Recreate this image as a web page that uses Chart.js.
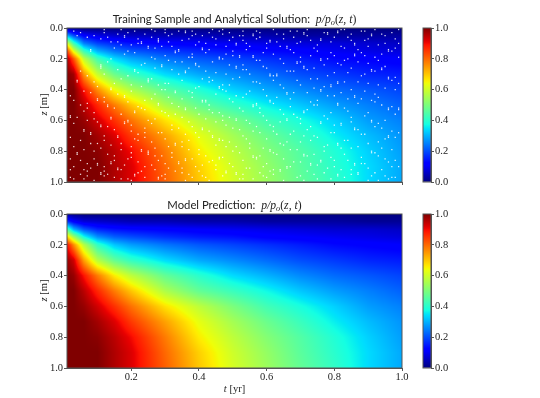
<!DOCTYPE html>
<html>
<head>
<meta charset="utf-8">
<script src="https://cdn.jsdelivr.net/npm/chart.js@4"></script>
<style>
  html, body { margin: 0; padding: 0; background: #fff; }
  canvas { position: absolute; left: 0; top: 0; }
</style>
</head>
<body>
<canvas id="trainChart" width="540" height="398"></canvas>
<canvas id="trainBar" width="540" height="398"></canvas>
<canvas id="predChart" width="540" height="398"></canvas>
<canvas id="predBar" width="540" height="398"></canvas>
<script>
// values, one row per z
const tNodes = [0.01, 0.03, 0.06, 0.1, 0.15, 0.2, 0.3, 0.4, 0.5, 0.6, 0.7, 0.8, 0.9, 1.0];
const zNodes = [0, 0.05, 0.1, 0.15, 0.2, 0.3, 0.4, 0.5, 0.6, 0.7, 0.8, 0.9, 1.0];

const trainValues = [
  [0.02, 0.01, 0, 0, 0, 0, 0, 0, 0, 0, 0, 0, 0, 0],
  [0.30, 0.20, 0.12, 0.09, 0.07, 0.06, 0.05, 0.05, 0.04, 0.04, 0.03, 0.03, 0.03, 0.03],
  [0.62, 0.42, 0.25, 0.19, 0.16, 0.14, 0.12, 0.11, 0.10, 0.09, 0.08, 0.08, 0.07, 0.06],
  [0.85, 0.62, 0.42, 0.30, 0.24, 0.21, 0.18, 0.16, 0.14, 0.13, 0.12, 0.10, 0.09, 0.08],
  [0.97, 0.82, 0.58, 0.43, 0.34, 0.29, 0.24, 0.21, 0.19, 0.17, 0.15, 0.13, 0.12, 0.11],
  [1.00, 0.97, 0.75, 0.59, 0.48, 0.42, 0.34, 0.29, 0.26, 0.23, 0.20, 0.18, 0.16, 0.15],
  [1.00, 1.00, 0.89, 0.76, 0.64, 0.56, 0.46, 0.39, 0.33, 0.29, 0.26, 0.23, 0.21, 0.19],
  [1.00, 1.00, 0.95, 0.87, 0.78, 0.70, 0.56, 0.47, 0.41, 0.36, 0.32, 0.28, 0.25, 0.22],
  [1.00, 1.00, 0.98, 0.93, 0.86, 0.79, 0.67, 0.57, 0.50, 0.43, 0.38, 0.33, 0.28, 0.25],
  [1.00, 1.00, 1.00, 0.97, 0.92, 0.85, 0.74, 0.63, 0.55, 0.48, 0.42, 0.36, 0.31, 0.27],
  [1.00, 1.00, 1.00, 0.99, 0.95, 0.90, 0.78, 0.66, 0.58, 0.51, 0.45, 0.39, 0.33, 0.28],
  [1.00, 1.00, 1.00, 1.00, 0.96, 0.92, 0.80, 0.69, 0.60, 0.53, 0.46, 0.40, 0.34, 0.29],
  [1.00, 1.00, 1.00, 1.00, 0.96, 0.92, 0.81, 0.70, 0.61, 0.54, 0.47, 0.41, 0.34, 0.29],
];

const predValues = [
  [0.02, 0.01, 0, 0, 0, 0, 0, 0, 0, 0, 0, 0, 0, 0],
  [0.18, 0.12, 0.08, 0.07, 0.06, 0.05, 0.05, 0.04, 0.04, 0.03, 0.03, 0.03, 0.02, 0.02],
  [0.45, 0.30, 0.21, 0.16, 0.14, 0.13, 0.12, 0.11, 0.10, 0.09, 0.08, 0.07, 0.07, 0.06],
  [0.70, 0.55, 0.38, 0.27, 0.22, 0.20, 0.17, 0.15, 0.14, 0.12, 0.11, 0.10, 0.09, 0.08],
  [0.90, 0.76, 0.57, 0.41, 0.32, 0.28, 0.24, 0.21, 0.19, 0.17, 0.15, 0.13, 0.12, 0.11],
  [0.98, 0.93, 0.74, 0.57, 0.47, 0.41, 0.34, 0.29, 0.26, 0.23, 0.20, 0.18, 0.16, 0.15],
  [1.00, 0.98, 0.89, 0.78, 0.66, 0.58, 0.47, 0.40, 0.34, 0.30, 0.26, 0.23, 0.21, 0.19],
  [1.00, 1.00, 0.95, 0.87, 0.78, 0.70, 0.56, 0.47, 0.42, 0.37, 0.32, 0.28, 0.25, 0.22],
  [1.00, 1.00, 0.98, 0.93, 0.86, 0.79, 0.67, 0.58, 0.50, 0.43, 0.38, 0.33, 0.28, 0.25],
  [1.00, 1.00, 1.00, 0.97, 0.92, 0.85, 0.74, 0.63, 0.55, 0.48, 0.42, 0.36, 0.31, 0.27],
  [1.00, 1.00, 1.00, 0.99, 0.95, 0.90, 0.78, 0.66, 0.58, 0.51, 0.45, 0.39, 0.33, 0.28],
  [1.00, 1.00, 1.00, 1.00, 0.96, 0.92, 0.80, 0.69, 0.60, 0.53, 0.46, 0.40, 0.34, 0.29],
  [1.00, 1.00, 1.00, 1.00, 0.96, 0.92, 0.81, 0.70, 0.61, 0.54, 0.47, 0.41, 0.34, 0.29],
];

// white specks in the top panel: columns of missing samples
const gapT = [0.03, 0.04, 0.05, 0.07, 0.08, 0.09, 0.11, 0.12, 0.14, 0.15, 0.17, 0.18, 0.2, 0.21, 0.22, 0.24, 0.25, 0.27, 0.28, 0.3, 0.32, 0.33, 0.35, 0.36, 0.38, 0.4, 0.41, 0.43, 0.45, 0.46, 0.47, 0.5, 0.51, 0.53, 0.55, 0.56, 0.58, 0.6, 0.61, 0.62, 0.65, 0.66, 0.67, 0.7, 0.71, 0.72, 0.75, 0.76, 0.77, 0.8, 0.81, 0.83, 0.85, 0.86, 0.88, 0.9, 0.91, 0.92, 0.95, 0.96, 0.97,
  0.02, 0.06, 0.1, 0.13, 0.16, 0.19, 0.23, 0.26, 0.29, 0.31, 0.34, 0.37, 0.39, 0.42, 0.44, 0.48, 0.49, 0.52, 0.54, 0.57, 0.59, 0.63, 0.64, 0.68, 0.69, 0.73, 0.74, 0.78, 0.79, 0.82, 0.84, 0.87, 0.89, 0.93, 0.94, 0.98, 0.99];
const gapZ = [
  [0.02, 0.47, 0.62, 0.77, 0.9, 0.98],
  [0.05, 0.34, 0.35, 0.58, 0.81, 0.82],
  [0.03, 0.28, 0.5, 0.73, 0.86, 0.95],
  [0.06, 0.31, 0.49, 0.52, 0.6, 0.88, 0.93, 0.96],
  [0.14, 0.15, 0.42, 0.68, 0.69, 0.75, 0.91],
  [0.05, 0.35, 0.55, 0.59, 0.8, 0.85, 0.99],
  [0.07, 0.24, 0.25, 0.26, 0.63, 0.64, 0.78, 0.94, 0.95],
  [0.01, 0.03, 0.3, 0.45, 0.48, 0.7, 0.73, 0.9, 0.93, 0.96],
  [0.09, 0.2, 0.39, 0.4, 0.58, 0.59, 0.76, 0.87, 0.88],
  [0.13, 0.36, 0.52, 0.66, 0.83, 0.86, 0.97],
  [0.01, 0.11, 0.33, 0.56, 0.75, 0.79, 0.92, 0.98],
  [0.05, 0.06, 0.17, 0.44, 0.45, 0.61, 0.62, 0.89],
  [0.11, 0.37, 0.41, 0.63, 0.67, 0.77, 0.81, 0.84, 0.99],
  [0.02, 0.16, 0.27, 0.28, 0.54, 0.55, 0.72, 0.95, 0.96],
  [0.07, 0.1, 0.29, 0.51, 0.69, 0.73, 0.87, 0.94],
  [0.04, 0.23, 0.47, 0.53, 0.65, 0.68, 0.71, 0.9, 0.97],
  [0.12, 0.13, 0.33, 0.34, 0.35, 0.6, 0.8, 0.81, 0.82],
  [0.02, 0.13, 0.2, 0.26, 0.43, 0.59, 0.78, 0.83, 0.92],
  [0.07, 0.08, 0.09, 0.37, 0.49, 0.5, 0.68, 0.86, 0.97, 0.98],
  [0.01, 0.03, 0.18, 0.36, 0.4, 0.55, 0.72, 0.88, 0.95, 0.98],
  [0.04, 0.12, 0.27, 0.49, 0.63, 0.66, 0.81, 0.84],
  [0.15, 0.16, 0.22, 0.41, 0.42, 0.56, 0.75, 0.76, 0.93],
  [0.08, 0.22, 0.34, 0.46, 0.58, 0.74, 0.77, 0.91, 0.94],
  [0.02, 0.03, 0.28, 0.29, 0.52, 0.53, 0.69, 0.85, 0.86, 0.99],
  [0.02, 0.05, 0.17, 0.19, 0.42, 0.45, 0.64, 0.85, 0.97],
  [0.09, 0.25, 0.38, 0.56, 0.71, 0.79, 0.82, 0.93],
  [0.05, 0.13, 0.14, 0.33, 0.47, 0.48, 0.65, 0.66, 0.89, 0.96],
  [0.03, 0.14, 0.32, 0.35, 0.5, 0.53, 0.67, 0.87, 0.99],
  [0.07, 0.11, 0.29, 0.43, 0.61, 0.76, 0.89, 0.92],
  [0.02, 0.19, 0.2, 0.38, 0.39, 0.55, 0.72, 0.73, 0.84, 0.85],
  [0.01, 0.04, 0.2, 0.37, 0.4, 0.57, 0.6, 0.73, 0.84, 0.96],
  [0.06, 0.15, 0.18, 0.33, 0.48, 0.65, 0.8, 0.9],
  [0.1, 0.11, 0.25, 0.26, 0.44, 0.59, 0.6, 0.77, 0.94, 0.95],
  [0.02, 0.05, 0.08, 0.24, 0.27, 0.45, 0.54, 0.7, 0.86, 0.95, 0.98],
  [0.12, 0.3, 0.41, 0.62, 0.75, 0.78, 0.91],
  [0.04, 0.05, 0.18, 0.19, 0.35, 0.5, 0.51, 0.67, 0.83, 0.84, 0.98],
  [0.03, 0.06, 0.21, 0.36, 0.52, 0.55, 0.68, 0.83, 0.94],
  [0.1, 0.13, 0.26, 0.44, 0.6, 0.72, 0.88, 0.97],
  [0.08, 0.09, 0.3, 0.31, 0.47, 0.48, 0.63, 0.79, 0.8, 0.93],
  [0.01, 0.17, 0.31, 0.34, 0.49, 0.64, 0.67, 0.81, 0.92, 0.95],
  [0.04, 0.07, 0.23, 0.39, 0.56, 0.76, 0.85, 0.99],
  [0.12, 0.13, 0.28, 0.42, 0.43, 0.59, 0.6, 0.74, 0.9, 0.91],
  [0.02, 0.14, 0.28, 0.46, 0.51, 0.69, 0.79, 0.9],
  [0.09, 0.19, 0.22, 0.37, 0.59, 0.62, 0.74, 0.87, 0.96],
  [0.03, 0.04, 0.25, 0.26, 0.54, 0.55, 0.7, 0.82, 0.83, 0.99],
  [0.01, 0.05, 0.27, 0.42, 0.53, 0.66, 0.83, 0.93],
  [0.11, 0.15, 0.33, 0.47, 0.5, 0.71, 0.89, 0.98],
  [0.07, 0.08, 0.2, 0.21, 0.4, 0.41, 0.61, 0.62, 0.86, 0.87],
  [0.03, 0.24, 0.38, 0.57, 0.77, 0.8, 0.94],
  [0.06, 0.18, 0.29, 0.44, 0.63, 0.68, 0.86, 0.9],
  [0.02, 0.03, 0.23, 0.35, 0.36, 0.49, 0.5, 0.75, 0.76, 0.95, 0.96],
  [0.01, 0.13, 0.21, 0.35, 0.52, 0.73, 0.82, 0.97],
  [0.04, 0.08, 0.26, 0.4, 0.58, 0.61, 0.78, 0.92, 0.95],
  [0.1, 0.11, 0.17, 0.18, 0.44, 0.45, 0.65, 0.66, 0.88, 0.89],
  [0.02, 0.16, 0.31, 0.46, 0.69, 0.84, 0.88],
  [0.07, 0.12, 0.23, 0.36, 0.55, 0.75, 0.91, 0.99],
  [0.04, 0.05, 0.27, 0.28, 0.47, 0.6, 0.61, 0.8, 0.81, 0.96],
  [0.01, 0.19, 0.28, 0.43, 0.48, 0.64, 0.81, 0.94],
  [0.05, 0.1, 0.25, 0.39, 0.6, 0.72, 0.85, 0.96],
  [0.14, 0.15, 0.32, 0.33, 0.52, 0.53, 0.7, 0.71, 0.87, 0.98],
  [0.03, 0.15, 0.34, 0.51, 0.67, 0.79, 0.9, 0.97],
  [0.44, 0.57, 0.58, 0.71, 0.85, 0.92, 0.97],
  [0.41, 0.54, 0.66, 0.67, 0.79, 0.92, 0.98],
  [0.38, 0.46, 0.47, 0.61, 0.75, 0.88, 0.89],
  [0.06, 0.22, 0.5, 0.51, 0.64, 0.82, 0.95],
  [0.04, 0.09, 0.27, 0.43, 0.7, 0.71, 0.91, 0.92],
  [0.03, 0.15, 0.31, 0.48, 0.6, 0.61, 0.85, 0.98],
  [0.09, 0.1, 0.24, 0.38, 0.52, 0.79, 0.8, 0.93],
  [0.01, 0.06, 0.19, 0.33, 0.46, 0.62, 0.74, 0.89],
  [0.12, 0.24, 0.25, 0.4, 0.54, 0.68, 0.83, 0.96],
  [0.05, 0.09, 0.21, 0.36, 0.45, 0.57, 0.77, 0.91],
  [0.02, 0.14, 0.15, 0.3, 0.51, 0.65, 0.87, 0.88],
  [0.07, 0.19, 0.26, 0.41, 0.61, 0.73, 0.79, 0.95],
  [0.04, 0.11, 0.23, 0.24, 0.39, 0.52, 0.68, 0.9],
  [0.1, 0.16, 0.28, 0.47, 0.48, 0.59, 0.83, 0.97],
  [0.01, 0.06, 0.22, 0.34, 0.55, 0.7, 0.71, 0.86],
  [0.12, 0.17, 0.3, 0.41, 0.63, 0.77, 0.93, 0.94],
  [0.03, 0.08, 0.24, 0.37, 0.46, 0.58, 0.74, 0.88],
  [0.05, 0.18, 0.19, 0.32, 0.52, 0.66, 0.81, 0.98],
  [0.1, 0.14, 0.27, 0.43, 0.6, 0.72, 0.91],
  [0.02, 0.07, 0.21, 0.35, 0.49, 0.5, 0.64, 0.84, 0.85],
  [0.16, 0.25, 0.4, 0.57, 0.78, 0.9, 0.96],
  [0.04, 0.09, 0.3, 0.31, 0.45, 0.69, 0.82],
  [0.12, 0.2, 0.37, 0.53, 0.61, 0.75, 0.92, 0.93],
  [0.06, 0.16, 0.28, 0.42, 0.56, 0.67, 0.87],
  [0.02, 0.1, 0.22, 0.23, 0.34, 0.58, 0.79, 0.97],
  [0.08, 0.18, 0.33, 0.48, 0.64, 0.73, 0.88, 0.89],
  [0.13, 0.26, 0.39, 0.5, 0.7, 0.82, 0.95],
  [0.03, 0.04, 0.2, 0.31, 0.44, 0.59, 0.76, 0.91],
  [0.09, 0.16, 0.37, 0.38, 0.55, 0.68, 0.84, 0.98],
  [0.01, 0.12, 0.24, 0.42, 0.62, 0.63, 0.78, 0.92],
  [0.06, 0.2, 0.29, 0.46, 0.54, 0.73, 0.86],
  [0.14, 0.22, 0.35, 0.49, 0.66, 0.77, 0.94, 0.95],
  [0.02, 0.08, 0.18, 0.3, 0.41, 0.57, 0.69, 0.88],
  [0.11, 0.21, 0.37, 0.45, 0.62, 0.74, 0.83, 0.99],
  [0.04, 0.17, 0.26, 0.27, 0.5, 0.65, 0.78, 0.92],
  [0.07, 0.13, 0.32, 0.4, 0.56, 0.71, 0.86, 0.97],
  [0.01, 0.1, 0.19, 0.36, 0.52, 0.53, 0.68, 0.9],
];

const xTickValues = [0.2, 0.4, 0.6, 0.8, 1.0];
const yTickValues = [0, 0.2, 0.4, 0.6, 0.8, 1.0];

const SERIF = '"Liberation Serif", serif';
const SANS = 'Lato, "Noto Sans", sans-serif';
const TICK_FONT = { family: SERIF, size: 10.5 };
const FRAME = '#555';

const titleMath = [
  ['p/p', 'italic 11.7px ' + SERIF], ['o', 'italic 8.3px ' + SERIF, 2],
  ['(', '11.7px ' + SERIF], ['z, t', 'italic 11.7px ' + SERIF], [')', '11.7px ' + SERIF],
];
const trainTitle = [['Training Sample and Analytical Solution:  ', '11.3px ' + SANS], ...titleMath];
const predTitle = [['Model Prediction:  ', '11.3px ' + SANS], ...titleMath];
const zLabel = [['z', 'italic 10.5px ' + SERIF], [' [m]', '10.5px ' + SERIF]];
const tLabel = [['t', 'italic 10.5px ' + SERIF], [' [yr]', '10.5px ' + SERIF]];

// matplotlib jet
function jet(v) {
  const ramp = (pts) => {
    for (let i = 1; i < pts.length; i++) {
      if (v <= pts[i][0]) {
        const a = pts[i - 1], b = pts[i];
        return a[1] + (b[1] - a[1]) * (v - a[0]) / (b[0] - a[0]);
      }
    }
    return pts[pts.length - 1][1];
  };
  return [
    ramp([[0, 0], [0.35, 0], [0.66, 1], [0.89, 1], [1, 0.5]]) * 255,
    ramp([[0, 0], [0.125, 0], [0.375, 1], [0.64, 1], [0.91, 0], [1, 0]]) * 255,
    ramp([[0, 0.5], [0.11, 1], [0.34, 1], [0.65, 0], [1, 0]]) * 255,
  ];
}

function findCell(nodes, v) {
  let i = 0;
  while (i < nodes.length - 2 && v > nodes[i + 1]) i++;
  return [i, Math.min(1, Math.max(0, (v - nodes[i]) / (nodes[i + 1] - nodes[i])))];
}

// shades the field between the read values, positions come from the scales
const heatPlugin = {
  id: 'heat',
  beforeDatasetsDraw(chart, args, opts) {
    const { ctx, chartArea: a, scales: { x, y } } = chart;
    const w = Math.round(a.right - a.left), h = Math.round(a.bottom - a.top);
    const img = ctx.createImageData(w, h);
    for (let py = 0; py < h; py++) {
      const [r, fz] = findCell(zNodes, y.getValueForPixel(a.top + py + 0.5));
      for (let px = 0; px < w; px++) {
        const [c, ft] = findCell(tNodes, x.getValueForPixel(a.left + px + 0.5));
        const g = opts.grid;
        const v = (g[r][c] * (1 - ft) + g[r][c + 1] * ft) * (1 - fz)
                + (g[r + 1][c] * (1 - ft) + g[r + 1][c + 1] * ft) * fz;
        const col = jet(v), k = (py * w + px) * 4;
        img.data[k] = col[0]; img.data[k + 1] = col[1]; img.data[k + 2] = col[2]; img.data[k + 3] = 255;
      }
    }
    ctx.putImageData(img, Math.round(a.left), Math.round(a.top));
  },
};

function drawRuns(ctx, runs, cx, cy, angle) {
  ctx.save();
  ctx.translate(cx, cy);
  ctx.rotate(angle || 0);
  ctx.textBaseline = 'alphabetic';
  ctx.textAlign = 'left';
  ctx.fillStyle = '#222';
  let total = 0;
  runs.forEach((r) => { ctx.font = r[1]; total += ctx.measureText(r[0]).width; });
  let pos = -total / 2;
  runs.forEach((r) => {
    ctx.font = r[1];
    ctx.fillText(r[0], pos, r[2] || 0);
    pos += ctx.measureText(r[0]).width;
  });
  ctx.restore();
}

const framePlugin = {
  id: 'frame',
  afterDraw(chart, args, opts) {
    const { ctx, chartArea: a } = chart;
    ctx.save();
    ctx.strokeStyle = FRAME;
    ctx.lineWidth = 1;
    ctx.strokeRect(a.left, a.top, a.right - a.left, a.bottom - a.top);
    ctx.restore();
    if (opts.title) drawRuns(ctx, opts.title, (a.left + a.right) / 2, a.top - 5);
    if (opts.xLabel) drawRuns(ctx, opts.xLabel, (a.left + a.right) / 2, a.bottom + 24);
    if (opts.yLabel) drawRuns(ctx, opts.yLabel, 47, (a.top + a.bottom) / 2 - 0.5, -Math.PI / 2);
  },
};

function heatChart(id, grid, top, gaps, title, xLabel, showXLabels) {
  new Chart(document.getElementById(id), {
    type: 'scatter',
    data: {
      datasets: [{
        data: gaps,
        backgroundColor: 'rgba(255,255,255,0.85)',
        borderWidth: 0,
        pointRadius: 0.9,
        pointStyle: 'rect',
      }],
    },
    plugins: [heatPlugin, framePlugin],
    options: {
      responsive: false,
      animation: false,
      layout: { padding: { left: 27, right: 138, top: top, bottom: 398 - top - 154 - 24 } },
      plugins: {
        legend: { display: false },
        tooltip: { enabled: false },
        heat: { grid: grid },
        frame: { title: title, xLabel: xLabel, yLabel: zLabel },
      },
      scales: {
        x: {
          type: 'linear', min: 0.01, max: 1,
          afterBuildTicks: (s) => { s.ticks = xTickValues.map((v) => ({ value: v })); },
          afterFit: (s) => { s.height = 24; },
          grid: { drawOnChartArea: false, tickLength: 3, color: FRAME },
          border: { color: FRAME },
          ticks: {
            font: TICK_FONT, color: '#222', maxRotation: 0, padding: 0,
            callback: (v) => (showXLabels ? v.toFixed(1) : ''),
          },
        },
        y: {
          type: 'linear', min: 0, max: 1, reverse: true,
          afterBuildTicks: (s) => { s.ticks = yTickValues.map((v) => ({ value: v })); },
          afterFit: (s) => { s.width = 40; },
          grid: { drawOnChartArea: false, tickLength: 3, color: FRAME },
          border: { color: FRAME },
          ticks: { font: TICK_FONT, color: '#222', padding: 1, callback: (v) => v.toFixed(1) },
        },
      },
    },
  });
}

function colorBar(id, top) {
  new Chart(document.getElementById(id), {
    type: 'bar',
    data: {
      labels: ['p/po'],
      datasets: [{
        data: [[0, 1]],
        barPercentage: 1,
        categoryPercentage: 1,
        backgroundColor: (c) => {
          const a = c.chart.chartArea;
          if (!a) return '#000';
          const g = c.chart.ctx.createLinearGradient(0, a.bottom, 0, a.top);
          for (let i = 0; i <= 64; i++) {
            const col = jet(i / 64);
            g.addColorStop(i / 64, 'rgb(' + col.map(Math.round).join(',') + ')');
          }
          return g;
        },
      }],
    },
    plugins: [framePlugin],
    options: {
      responsive: false,
      animation: false,
      layout: { padding: { left: 423, right: 79, top: top, bottom: 398 - top - 154 } },
      plugins: { legend: { display: false }, tooltip: { enabled: false } },
      scales: {
        x: { display: false },
        y: {
          position: 'right', min: 0, max: 1,
          afterBuildTicks: (s) => { s.ticks = yTickValues.map((v) => ({ value: v })); },
          afterFit: (s) => { s.width = 30; },
          grid: { drawOnChartArea: false, tickLength: 3, color: FRAME },
          border: { color: FRAME },
          ticks: { font: TICK_FONT, color: '#222', padding: 1, callback: (v) => v.toFixed(1) },
        },
      },
    },
  });
}

const gapPoints = gapZ.flatMap((col, i) => col.map((z) => ({ x: gapT[i], y: z })));

heatChart('trainChart', trainValues, 28, gapPoints, trainTitle, null, false);
colorBar('trainBar', 28);
heatChart('predChart', predValues, 214, [], predTitle, tLabel, true);
colorBar('predBar', 214);
</script>
</body>
</html>
